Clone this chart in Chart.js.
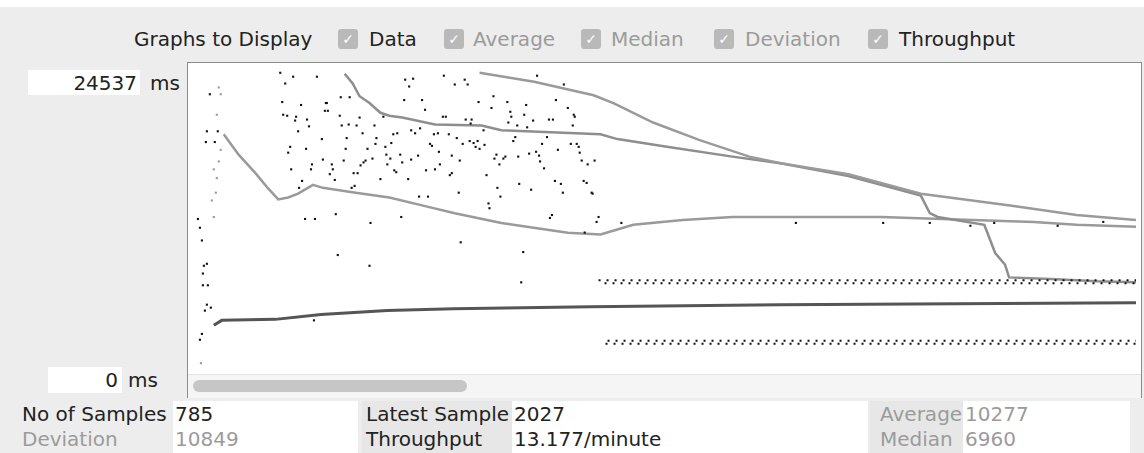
<!DOCTYPE html>
<html>
<head>
<meta charset="utf-8">
<script src="https://cdn.jsdelivr.net/npm/chart.js@4.4.1/dist/chart.umd.min.js"></script>
<style>
body { margin:0; width:1144px; height:453px; background:#ededed; position:relative; overflow:hidden;
       font-family:"DejaVu Sans", sans-serif; }
.t { position:absolute; font-size:20px; line-height:22px; color:#222; white-space:nowrap; }
.g { color:#9b9b9b; }
.cb { position:absolute; top:29px; width:20px; height:20px; background:#b9b9b9; border-radius:3px;
      color:#fff; font-size:14px; line-height:20px; text-align:center; }
.box { position:absolute; background:#fff; }
#plot { position:absolute; left:187px; top:62px; width:953px; height:334px; border:1px solid #8c8c8c; background:#fff; }
#track { position:absolute; left:0; top:311px; width:953px; height:23px; background:#f5f5f5; border-top:1px solid #e4e4e4; }
#thumb { position:absolute; left:5px; top:5px; width:274px; height:12px; border-radius:6px; background:#c6c6c6; }
#c { position:absolute; left:188px; top:63px; }
</style>
</head>
<body>
<div class="box" style="left:0;top:0;width:1144px;height:7px"></div>

<div class="t" style="left:134px;top:28px">Graphs to Display</div>
<div class="cb" style="left:338px">✓</div><div class="t" style="left:369px;top:28px">Data</div>
<div class="cb" style="left:444px">✓</div><div class="t g" style="left:473px;top:28px">Average</div>
<div class="cb" style="left:581px">✓</div><div class="t g" style="left:611px;top:28px">Median</div>
<div class="cb" style="left:714px">✓</div><div class="t g" style="left:745px;top:28px">Deviation</div>
<div class="cb" style="left:868px">✓</div><div class="t" style="left:899px;top:28px">Throughput</div>

<div class="box" style="left:28px;top:70px;width:112px;height:25px"></div>
<div class="t" style="left:28px;top:72px;width:109px;text-align:right">24537</div>
<div class="t" style="left:150px;top:72px">ms</div>
<div class="box" style="left:48px;top:367px;width:74px;height:26px"></div>
<div class="t" style="left:48px;top:369px;width:70px;text-align:right">0</div>
<div class="t" style="left:128px;top:369px">ms</div>

<div id="plot"><div id="track"><div id="thumb"></div></div></div>
<canvas id="c" width="952" height="311"></canvas>

<div class="box" style="left:173px;top:401px;width:185px;height:52px"></div>
<div style="position:absolute;left:362px;top:401px;width:150px;height:52px;background:#e7e7e7"></div>
<div class="box" style="left:512px;top:401px;width:356px;height:52px"></div>
<div style="position:absolute;left:870px;top:401px;width:93px;height:52px;background:#e7e7e7"></div>
<div class="box" style="left:963px;top:401px;width:167px;height:52px"></div>

<div class="t" style="left:22px;top:403px">No of Samples</div>
<div class="t" style="left:175px;top:403px">785</div>
<div class="t" style="left:366px;top:403px">Latest Sample</div>
<div class="t" style="left:514px;top:403px">2027</div>
<div class="t g" style="left:880px;top:403px">Average</div>
<div class="t g" style="left:965px;top:403px">10277</div>

<div class="t g" style="left:22px;top:428px">Deviation</div>
<div class="t g" style="left:175px;top:428px">10849</div>
<div class="t" style="left:366px;top:428px">Throughput</div>
<div class="t" style="left:514px;top:428px">13.177/minute</div>
<div class="t g" style="left:880px;top:428px">Median</div>
<div class="t g" style="left:965px;top:428px">6960</div>

<script>
// sample index, response time in ms
var dataDots = [
  [89,24070],[102,23750],[126,23750],[94,23200],[18,22330],[91,21700],[110,21460],[135,21620],[92,20670],[96,20590],
  [105,20510],[104,20200],[116,20280],[118,19730],[107,19330],[15,19330],[26,19330],[14,18460],[23,18460],[131,18700],
  [99,18070],[115,17910],[97,17600],[132,17040],[121,16650],[120,16250],[100,16250],[111,15310],[108,14750],[6,12230],
  [114,12230],[124,12230],
  [215,23510],[223,23590],[219,22960],[254,23830],[265,23120],[136,21620],[134,20990],[137,20990],[150,22090],[159,22090],
  [232,21860],[214,21860],[235,21070],[149,20590],[169,20440],[193,20510],[253,20510],[256,20510],[151,19800],[158,19880],
  [166,19800],[184,19800],[221,19410],[225,19170],[230,19570],[172,19170],[203,19090],[207,19170],[244,19090],[248,19170],
  [259,19090],[156,18780],[186,18780],[267,18780],[185,18310],[201,18380],[240,18310],[242,18150],[195,18070],[155,17910],
  [177,17910],[249,17670],[196,17440],[210,17440],[228,17360],[262,17360],[182,17120],[175,16960],[173,16810],[200,17120],
  [221,17040],[153,16960],[212,16810],[270,16960],[141,16650],[142,16250],[170,16570],[197,16650],[250,16650],[204,16170],
  [206,16020],[236,16170],[245,16250],[139,15860],[144,15390],[163,15940],[167,15940],[260,15780],[262,15940],[190,15460],
  [218,15460],[161,14750],[164,14910],[229,14040],[238,14040],[269,14360],[145,12620],[211,12390],
  [275,23510],[278,23120],[348,23830],[375,23120],[304,22170],[289,21700],[318,21700],[337,21460],[302,21220],[367,21860],
  [379,21220],[321,20910],[322,20510],[335,20670],[385,20670],[386,20510],[319,20040],[344,20200],[360,20280],[364,20280],
  [276,20280],[282,20280],[281,19960],[328,19800],[384,19800],[294,19410],[338,19650],[326,18860],[324,18540],[358,18860],
  [280,18540],[273,18310],[284,18380],[288,18540],[286,18070],[290,17910],[295,18230],[353,18310],[382,18310],[388,18310],
  [390,18070],[369,17830],[340,17520],[347,17670],[391,17600],[307,17440],[305,17120],[316,17280],[314,17120],[329,17280],
  [350,17360],[351,16890],[393,16960],[406,16960],[310,16650],[399,16650],[355,16330],[297,15780],[366,15310],[395,15310],
  [398,15150],[330,15070],[372,15070],[374,14360],[308,14750],[342,14600],[403,14360],[404,14280],[311,14040],[299,13490],
  [300,13100],[363,12550],[361,12310],[410,12390],
  [180,11910],[271,10340],[147,9310],[179,8440],[334,9550],[332,7100],[408,11990],[396,11130],[433,11910],[123,4020],
  [609,11910],[697,11910],[744,11910],[785,11680],[809,11910],[873,11680],[919,11990],
  [8,11520],[10,10490],[12,8440],[15,8600],[11,7810],[11,6860],[16,6860],[15,5290],[19,5050],[13,4810],[10,2920],[8,2450]
];
var earlyDots = [
  [27,22880],[29,22330],[25,20670],[29,17830],[27,16890],[22,16250],[25,15540],[24,14360],[20,13730],[22,12390],[9,550]
];
// banded data after sample ~410 (two response time clusters)
var bandHigh = [[410,7260],[952,7260]];
var bandHigh2 = [[412,7020],[952,7020]];
var bandLow = [[413,2370],[952,2370]];
var bandLow2 = [[415,2130],[952,2130]];

var deviation = [
  [290,24070],[345,23350],[405,22250],[425,21620],[465,20040],[512,18620],[562,17280],[595,16730],
  [662,15860],[735,14280],[825,13330],[892,12550],[952,12150]
];
var median = [
  [154,23990],[162,23200],[169,22170],[179,21620],[190,20830],[199,20590],[212,20440],[245,19880],[292,19800],
  [312,19410],[362,19250],[412,19090],[429,18700],[479,18070],[545,17280],[595,16730],[662,15700],[735,14120],
  [744,12700],[752,12390],[799,11760],[802,11130],[810,9470],[820,8520],[824,7500],[872,7340],[912,7180],[952,7100]
];
var average = [
  [32,19090],[47,17440],[64,15940],[77,14680],[87,13810],[97,13970],[107,14280],[122,14990],[132,14750],
  [165,14360],[199,13970],[232,13330],[265,12700],[312,11910],[379,11120],[412,10970],[445,11760],[495,12150],
  [545,12390],[695,12390],[849,11990],[892,11760],[952,11600]
];
var throughput = [
  [22,3630],[30,4020],[84,4100],[130,4500],[197,4810],[264,4970],[402,5130],[592,5290],[952,5440]
];

function pts(a) { return a.map(function(p) { return {x: p[0], y: p[1]}; }); }

function dots(arr, color) {
  return { data: pts(arr), pointStyle: 'rect', pointRadius: 1.5, pointBorderWidth: 0,
           pointBackgroundColor: color, showLine: false };
}
function line(arr, color, w, dash, off) {
  return { data: pts(arr), showLine: true, borderColor: color, borderWidth: w, pointRadius: 0,
           tension: 0, borderDash: dash || [], borderDashOffset: off || 0 };
}

new Chart(document.getElementById('c'), {
  type: 'scatter',
  data: {
    datasets: [
      dots(dataDots, '#111'),
      dots(earlyDots, '#9a9a9a'),
      line(bandHigh, '#111', 2, [2, 6], 0),
      line(bandHigh2, '#111', 2, [2, 6], 4),
      line(bandLow, '#111', 2, [2, 6], 2),
      line(bandLow2, '#111', 2, [2, 6], 6),
      line(deviation, '#9a9a9a', 2.5),
      line(median, '#8e8e8e', 2.5),
      line(average, '#9a9a9a', 2.5),
      line(throughput, '#555', 3)
    ]
  },
  options: {
    responsive: false,
    animation: false,
    events: [],
    layout: { padding: 0 },
    plugins: { legend: { display: false }, tooltip: { enabled: false } },
    scales: {
      x: { type: 'linear', min: 0, max: 952, display: false },
      y: { type: 'linear', min: 0, max: 24537, display: false }
    }
  }
});
</script>
</body>
</html>
